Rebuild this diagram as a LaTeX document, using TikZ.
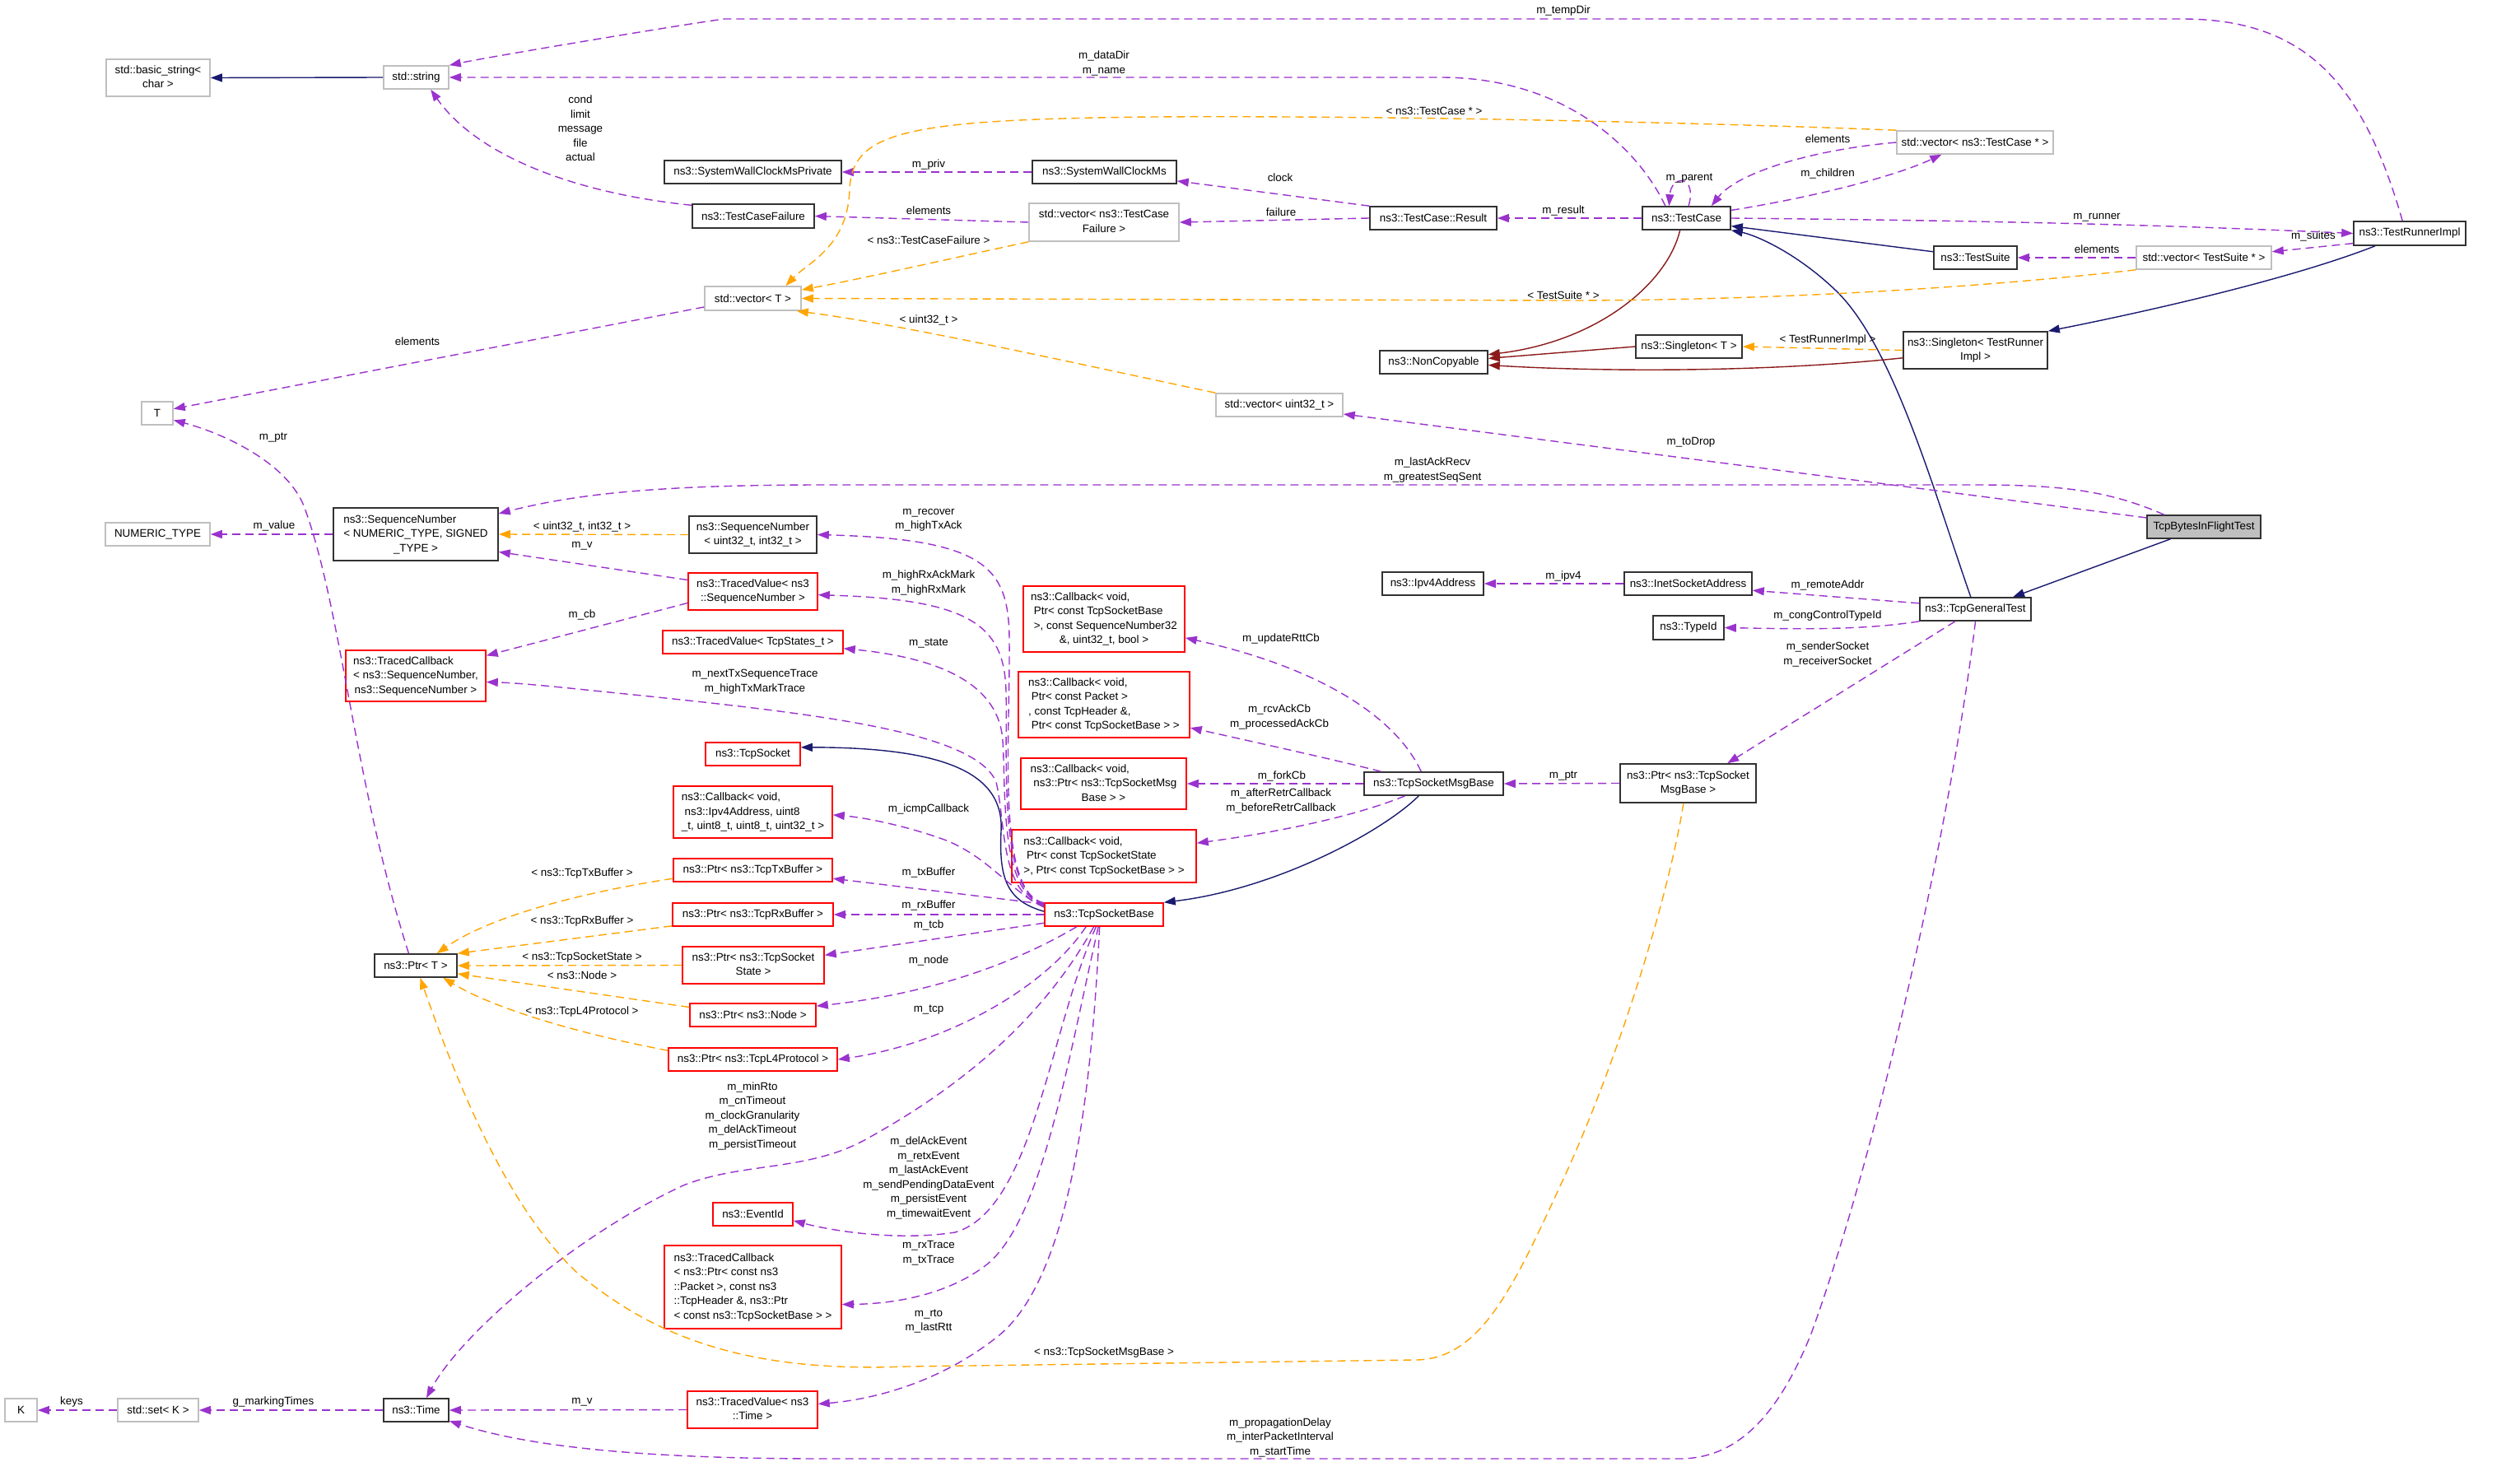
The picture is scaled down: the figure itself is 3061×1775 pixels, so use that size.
\documentclass[tikz,border=0pt]{standalone}
\usepackage{fontspec}
\setmainfont{Liberation Sans}
\usepackage{tikz}
\usetikzlibrary{arrows.meta,positioning}
\definecolor{usecol}{RGB}{154,50,205}
\definecolor{tmplcol}{RGB}{255,165,0}
\definecolor{inhcol}{RGB}{25,25,112}
\definecolor{protcol}{RGB}{139,26,26}
\definecolor{extgray}{RGB}{191,191,191}
\definecolor{maingray}{RGB}{191,191,191}
\definecolor{docred}{RGB}{255,0,0}
\definecolor{clsdark}{RGB}{50,50,50}
\newcommand{\dgfont}{\fontsize{13.4}{17.5}\selectfont}
\newcommand{\ltail}[2]{\begin{tabular}{@{}l@{}}#1\\\multicolumn{1}{@{}c@{}}{#2}\end{tabular}}
\tikzset{
  basebox/.style={rectangle,inner sep=0pt,align=center,font=\dgfont,line width=1.6pt,fill=white},
  clsnode/.style={basebox,draw=clsdark},
  extnode/.style={basebox,draw=extgray},
  rednode/.style={basebox,draw=docred},
  mainnode/.style={basebox,draw=clsdark,fill=maingray},
  bx/.style 2 args={minimum width=#1,minimum height=#2},
  lbl/.style={inner sep=0pt,align=center,font=\dgfont},
  usearr/.style={-{Triangle[length=14pt,width=10pt]},line width=1.4pt,dash pattern=on 10pt off 6pt,color=usecol},
  tmplarr/.style={usearr,color=tmplcol},
  inharr/.style={-{Triangle[length=14pt,width=10pt]},line width=1.4pt,color=inhcol},
  protarr/.style={inharr,color=protcol}
}

\begin{document}
\begin{tikzpicture}[x=1pt,y=-1pt]
  \fill[white] (0,0) rectangle (3061,1775);
  \useasboundingbox (0,0) rectangle (3061,1775);

  \node[extnode,bx={126}{45}] (bstr) at (192,94.5) {\ltail{std::basic\_string<}{char >}};
  \node[extnode,bx={79}{28}] (str) at (505.5,94) {std::string};
  \node[clsnode,bx={215}{28}] (swcmp) at (914.5,209) {ns3::SystemWallClockMsPrivate};
  \node[clsnode,bx={148}{29}] (tcf) at (915,262.5) {ns3::TestCaseFailure};
  \node[extnode,bx={117}{29}] (vect) at (914.5,362.5) {std::vector< T >};
  \node[extnode,bx={38}{28}] (tt) at (191,502) {T};
  \node[clsnode,bx={175}{28}] (swcm) at (1341.5,209) {ns3::SystemWallClockMs};
  \node[extnode,bx={182}{46}] (vectcf) at (1341,270) {\ltail{std::vector< ns3::TestCase}{Failure >}};
  \node[clsnode,bx={154}{28}] (res) at (1741,265) {ns3::TestCase::Result};
  \node[clsnode,bx={131}{28}] (noncopy) at (1741.5,440) {ns3::NonCopyable};
  \node[extnode,bx={154}{28}] (vecu) at (1554,492) {std::vector< uint32\_t >};
  \node[clsnode,bx={107}{28}] (tc) at (2048.5,265) {ns3::TestCase};
  \node[extnode,bx={190}{28}] (vectc) at (2399,173) {std::vector< ns3::TestCase * >};
  \node[clsnode,bx={136}{29}] (runner) at (2927,283.5) {ns3::TestRunnerImpl};
  \node[clsnode,bx={101}{28}] (suite) at (2399.5,313) {ns3::TestSuite};
  \node[extnode,bx={164}{28}] (vects) at (2677,313) {std::vector< TestSuite * >};
  \node[clsnode,bx={175}{45}] (singr) at (2399.5,425.5) {\ltail{ns3::Singleton< TestRunner}{Impl >}};
  \node[clsnode,bx={129}{28}] (singt) at (2051.5,421) {ns3::Singleton< T >};

  \node[extnode,bx={127}{28}] (numt) at (191.5,649) {NUMERIC\_TYPE};
  \node[clsnode,bx={200}{64}] (seqn) at (505,649) {\ltail{ns3::SequenceNumber\\< NUMERIC\_TYPE, SIGNED}{\_TYPE >}};
  \node[clsnode,bx={155}{45}] (sequ) at (914.5,649.5) {\ltail{ns3::SequenceNumber}{< uint32\_t, int32\_t >}};
  \node[rednode,bx={157}{45}] (tvseq) at (914.5,718.5) {\ltail{ns3::TracedValue< ns3}{::SequenceNumber >}};
  \node[rednode,bx={219}{28}] (tvstate) at (914.5,780) {ns3::TracedValue< TcpStates\_t >};
  \node[rednode,bx={170}{62}] (tcbseq) at (505,821) {\ltail{ns3::TracedCallback\\< ns3::SequenceNumber,}{ns3::SequenceNumber >}};
  \node[rednode,bx={115}{28}] (tcpsock) at (914.5,916) {ns3::TcpSocket};
  \node[rednode,bx={193}{63}] (cbicmp) at (914.5,986.5) {\ltail{ns3::Callback< void,\\\ ns3::Ipv4Address, uint8}{\_t, uint8\_t, uint8\_t, uint32\_t >}};
  \node[rednode,bx={196}{80}] (cbrtt) at (1341,752) {\ltail{ns3::Callback< void,\\\ Ptr< const TcpSocketBase\\\ >, const SequenceNumber32}{\&, uint32\_t, bool >}};
  \node[rednode,bx={208}{80}] (cback) at (1341,856) {\ltail{ns3::Callback< void,\\\ Ptr< const Packet >\\, const TcpHeader \&,}{\ Ptr< const TcpSocketBase > >}};
  \node[rednode,bx={201}{62}] (cbfork) at (1340.5,952) {\ltail{ns3::Callback< void,\\\ ns3::Ptr< ns3::TcpSocketMsg}{Base > >}};
  \node[rednode,bx={224}{64}] (cbretr) at (1341,1040) {\ltail{ns3::Callback< void,\\\ Ptr< const TcpSocketState}{>, Ptr< const TcpSocketBase > >}};
  \node[clsnode,bx={123}{28}] (ipv4) at (1740.5,709) {ns3::Ipv4Address};
  \node[clsnode,bx={155}{28}] (inet) at (2050.5,709) {ns3::InetSocketAddress};
  \node[clsnode,bx={169}{28}] (msgbase) at (1741.5,952) {ns3::TcpSocketMsgBase};
  \node[clsnode,bx={165}{47}] (ptrmsg) at (2050.5,951.5) {\ltail{ns3::Ptr< ns3::TcpSocket}{MsgBase >}};
  \node[mainnode,bx={138}{28}] (bift) at (2677,640) {TcpBytesInFlightTest};
  \node[clsnode,bx={135}{28}] (gen) at (2399.5,740) {ns3::TcpGeneralTest};
  \node[clsnode,bx={86}{29}] (typeid) at (2051,762.5) {ns3::TypeId};

  \node[rednode,bx={144}{28}] (sockbase) at (1341,1111) {ns3::TcpSocketBase};
  \node[rednode,bx={193}{28}] (ptrtx) at (914.5,1057) {ns3::Ptr< ns3::TcpTxBuffer >};
  \node[rednode,bx={195}{28}] (ptrrx) at (914.5,1111) {ns3::Ptr< ns3::TcpRxBuffer >};
  \node[rednode,bx={172}{45}] (ptrstate) at (915,1172.5) {\ltail{ns3::Ptr< ns3::TcpSocket}{State >}};
  \node[rednode,bx={153}{28}] (ptrnode) at (914.5,1233) {ns3::Ptr< ns3::Node >};
  \node[rednode,bx={205}{28}] (ptrl4) at (914.5,1287) {ns3::Ptr< ns3::TcpL4Protocol >};
  \node[clsnode,bx={100}{28}] (ptrt) at (505,1173) {ns3::Ptr< T >};
  \node[rednode,bx={97}{28}] (eventid) at (914.5,1475) {ns3::EventId};
  \node[rednode,bx={215}{101}] (tcbpkt) at (914.5,1563.5) {\ltail{ns3::TracedCallback\\< ns3::Ptr< const ns3\\::Packet >, const ns3\\::TcpHeader \&, ns3::Ptr}{< const ns3::TcpSocketBase > >}};
  \node[extnode,bx={39}{28}] (kk) at (25.5,1713) {K};
  \node[extnode,bx={98}{28}] (setk) at (192,1713) {std::set< K >};
  \node[clsnode,bx={79}{28}] (time) at (505.5,1713) {ns3::Time};
  \node[rednode,bx={158}{45}] (tvtime) at (914,1712.5) {\ltail{ns3::TracedValue< ns3}{::Time >}};

  \foreach \a/\b in {str.west/bstr.east,suite.172/tc.-10,bift.-160/gen.18} \draw[inharr] (\a) -- (\b);
  \draw[inharr] (runner.-160) .. controls (2780,340) and (2600,380) .. (singr.north east);
  \draw[inharr] (gen.111) .. controls (2350,600) and (2300,420) .. (2230,353) .. controls (2180,305) and (2130,285) .. (tc.south east);
  \draw[inharr] (sockbase.177) .. controls (1225,1095) and (1213,1070) .. (1216,1010) .. controls (1220,940) and (1150,908) .. (tcpsock.8);
  \draw[inharr] (msgbase.-141) .. controls (1680,1010) and (1550,1080) .. (sockbase.north east);
  \draw[protarr] (singt.west) -- (noncopy.4);
  \draw[protarr] (singr.-174) .. controls (2150,452) and (1950,452) .. (noncopy.-3);
  \draw[protarr] (tc.-118) .. controls (2025,345) and (1940,415) .. (noncopy.8);

  \foreach \a/\b in {swcm.west/swcmp.east,res.north west/swcm.-7,vectcf.west/tcf.east,res.west/vectcf.east,
    tc.west/res.east,runner.-170/vects.5,vects.west/suite.east,bift.171/vecu.-8,seqn.west/numt.east,
    vect.-170/tt.15,tvseq.170/seqn.-12,tvseq.-170/tcbseq.16,sockbase.170/ptrtx.-6,sockbase.west/ptrrx.east,
    sockbase.-172/ptrstate.8,tvtime.west/time.east,time.west/setk.east,setk.west/kk.east,
    msgbase.west/cbfork.east,ptrmsg.west/msgbase.east,gen.174/inet.-6,inet.west/ipv4.east,gen.-149/ptrmsg.27}
    \draw[usearr] (\a) -- (\b);
  \draw[usearr] (runner.120) .. controls (2870,100) and (2800,23) .. (2650,23) -- (880,23) .. controls (840,28) and (600,68) .. (str.north east);
  \draw[usearr] (tc.150) .. controls (1990,180) and (1900,94) .. (1750,94) -- (str.east);
  \draw[usearr] (tcf.170) .. controls (700,235) and (580,190) .. (str.-40);
  \draw[usearr] (vectc.west) .. controls (2200,182) and (2110,210) .. (tc.26);
  \draw[usearr] (tc.10) .. controls (2200,240) and (2300,215) .. (vectc.-160);
  \draw[usearr] (tc.80) .. controls (2062,212) and (2030,212) .. (tc.145);
  \draw[usearr] (tc.east) .. controls (2400,268) and (2600,272) .. (runner.west);
  \draw[usearr] (bift.163) .. controls (2560,595) and (2500,589) .. (2400,589) -- (1000,589) .. controls (800,589) and (700,600) .. (seqn.14);
  \draw[usearr] (sockbase.169) .. controls (1210,1085) and (1227,900) .. (1226,780) .. controls (1226,690) and (1200,655) .. (sequ.east);
  \draw[usearr] (sockbase.170) .. controls (1212,1085) and (1224,920) .. (1222,840) .. controls (1220,760) and (1180,728) .. (tvseq.-3);
  \draw[usearr] (sockbase.171) .. controls (1214,1085) and (1222,960) .. (1218,900) .. controls (1214,835) and (1150,800) .. (tvstate.-4);
  \draw[usearr] (sockbase.172) .. controls (1214,1085) and (1222,1000) .. (1210,950) .. controls (1185,890) and (1000,868) .. (780,845) .. controls (700,837) and (640,830) .. (tcbseq.-5);
  \draw[usearr] (sockbase.173) .. controls (1230,1085) and (1200,1040) .. (1147,1020) .. controls (1100,1003) and (1050,993) .. (cbicmp.-2);
  \draw[usearr] (sockbase.-156) .. controls (1250,1160) and (1150,1205) .. (ptrnode.8);
  \draw[usearr] (sockbase.-146) .. controls (1270,1200) and (1150,1268) .. (ptrl4.east);
  \draw[usearr] (sockbase.-130) .. controls (1260,1250) and (1150,1330) .. (1050,1385) .. controls (980,1423) and (900,1412) .. (830,1440) .. controls (700,1500) and (560,1620) .. (time.50);
  \draw[usearr] (sockbase.-123) .. controls (1275,1250) and (1255,1470) .. (1160,1497) .. controls (1090,1508) and (1010,1495) .. (eventid.-9);
  \draw[usearr] (sockbase.-115) .. controls (1295,1300) and (1265,1480) .. (1200,1535) .. controls (1150,1575) and (1080,1584) .. (tcbpkt.-11);
  \draw[usearr] (sockbase.-110) .. controls (1325,1350) and (1295,1560) .. (1210,1625) .. controls (1140,1680) and (1060,1700) .. (tvtime.5);
  \draw[usearr] (gen.south) .. controls (2370,1000) and (2280,1400) .. (2200,1620) .. controls (2160,1720) and (2110,1772) .. (2040,1772) -- (1000,1772) .. controls (800,1772) and (650,1760) .. (time.-18);
  \draw[usearr] (ptrt.120) .. controls (430,950) and (415,740) .. (370,617) .. controls (350,562) and (270,526) .. (tt.-23);
  \draw[usearr] (msgbase.136) .. controls (1700,880) and (1620,815) .. (cbrtt.-13);
  \draw[usearr] (msgbase.167) .. controls (1630,925) and (1540,905) .. (cback.-15);
  \draw[usearr] (msgbase.-157) .. controls (1650,990) and (1560,1010) .. (cbretr.8);
  \draw[usearr] (gen.south west) .. controls (2260,766) and (2180,764) .. (typeid.east);

  \foreach \a/\b in {singr.west/singt.east,sequ.west/seqn.east,ptrrx.-172/ptrt.north east,
    ptrstate.west/ptrt.east,ptrnode.173/ptrt.-11}
    \draw[tmplarr] (\a) -- (\b);
  \draw[tmplarr] (vects.south west) .. controls (2400,350) and (2150,365) .. (1900,365) -- (vect.east);
  \draw[tmplarr] (vectc.north west) .. controls (2100,150) and (1700,140) .. (1400,142) .. controls (1100,145) and (1035,160) .. (1032,230) .. controls (1030,300) and (980,320) .. (vect.21);
  \draw[tmplarr] (vectcf.south west) .. controls (1150,315) and (1050,338) .. (vect.10);
  \draw[tmplarr] (vecu.north west) .. controls (1300,440) and (1100,395) .. (vect.-16);
  \draw[tmplarr] (ptrmsg.-103) .. controls (2025,1100) and (1960,1300) .. (1900,1430) .. controls (1840,1560) and (1800,1651) .. (1720,1652) -- (1100,1660) .. controls (900,1668) and (790,1620) .. (701,1546) .. controls (620,1470) and (560,1330) .. (ptrt.-70);
  \draw[tmplarr] (ptrtx.-174) .. controls (720,1082) and (600,1110) .. (ptrt.30);
  \draw[tmplarr] (ptrl4.174) .. controls (700,1255) and (600,1225) .. (ptrt.-24);

  \node[lbl] (ltempdir) at (1899,13) {m\_tempDir};
  \node[lbl] (ldatadir) at (1341,77) {m\_dataDir\\m\_name};
  \node[lbl] (lcond) at (705,156) {cond\\limit\\message\\file\\actual};
  \node[lbl] (ltcptr) at (1742,135) {< ns3::TestCase * >};
  \node[lbl] (lpriv) at (1128,200) {m\_priv};
  \node[lbl] (lclock) at (1555,216) {clock};
  \node[lbl] (lelemtcf) at (1128,256) {elements};
  \node[lbl] (lfailure) at (1556,258) {failure};
  \node[lbl] (lresult) at (1899,256) {m\_result};
  \node[lbl] (lparent) at (2052,217) {m\_parent};
  \node[lbl] (lelemtc) at (2220,169) {elements};
  \node[lbl] (lchildren) at (2220,211) {m\_children};
  \node[lbl] (lrunner) at (2547,264) {m\_runner};
  \node[lbl] (lsuites) at (2810,287) {m\_suites};
  \node[lbl] (lelemts) at (2547,303) {elements};
  \node[lbl] (ltcf) at (1128,292) {< ns3::TestCaseFailure >};
  \node[lbl] (ltsptr) at (1899,359) {< TestSuite * >};
  \node[lbl] (lu32) at (1128,389) {< uint32\_t >};
  \node[lbl] (lelemt) at (507,415) {elements};
  \node[lbl] (ltri) at (2220,413) {< TestRunnerImpl >};
  \node[lbl] (ltodrop) at (2054,537) {m\_toDrop};
  \node[lbl] (lptrt) at (332,532) {m\_ptr};
  \node[lbl] (lack) at (1740,571) {m\_lastAckRecv\\m\_greatestSeqSent};
  \node[lbl] (lvalue) at (333,639) {m\_value};
  \node[lbl] (lui) at (707,640) {< uint32\_t, int32\_t >};
  \node[lbl] (lvseq) at (707,663) {m\_v};
  \node[lbl] (lcb) at (707,747) {m\_cb};
  \node[lbl] (lrecover) at (1128,632) {m\_recover\\m\_highTxAck};
  \node[lbl] (lhighrx) at (1128,708) {m\_highRxAckMark\\m\_highRxMark};
  \node[lbl] (lstate) at (1128,781) {m\_state};
  \node[lbl] (lnexttx) at (917,828) {m\_nextTxSequenceTrace\\m\_highTxMarkTrace};
  \node[lbl] (licmp) at (1128,983) {m\_icmpCallback};
  \node[lbl] (lrtt) at (1556,776) {m\_updateRttCb};
  \node[lbl] (lrcvack) at (1554,871) {m\_rcvAckCb\\m\_processedAckCb};
  \node[lbl] (lfork) at (1557,943) {m\_forkCb};
  \node[lbl] (lretr) at (1556,973) {m\_afterRetrCallback\\m\_beforeRetrCallback};
  \node[lbl] (lipv4) at (1899,700) {m\_ipv4};
  \node[lbl] (lptrmsg) at (1899,943) {m\_ptr};
  \node[lbl] (lremote) at (2220,711) {m\_remoteAddr};
  \node[lbl] (lcong) at (2220,748) {m\_congControlTypeId};
  \node[lbl] (lsender) at (2220,795) {m\_senderSocket\\m\_receiverSocket};
  \node[lbl] (ltx) at (1128,1060) {m\_txBuffer};
  \node[lbl] (lrx) at (1128,1100) {m\_rxBuffer};
  \node[lbl] (ltcb) at (1128,1124) {m\_tcb};
  \node[lbl] (lnode) at (1128,1167) {m\_node};
  \node[lbl] (ltcp) at (1128,1227) {m\_tcp};
  \node[lbl] (lminrto) at (914,1356) {m\_minRto\\m\_cnTimeout\\m\_clockGranularity\\m\_delAckTimeout\\m\_persistTimeout};
  \node[lbl] (levents) at (1128,1431) {m\_delAckEvent\\m\_retxEvent\\m\_lastAckEvent\\m\_sendPendingDataEvent\\m\_persistEvent\\m\_timewaitEvent};
  \node[lbl] (ltrace) at (1128,1522) {m\_rxTrace\\m\_txTrace};
  \node[lbl] (lrto) at (1128,1605) {m\_rto\\m\_lastRtt};
  \node[lbl] (lmsgbase) at (1341,1643) {< ns3::TcpSocketMsgBase >};
  \node[lbl] (lprop) at (1555,1746) {m\_propagationDelay\\m\_interPacketInterval\\m\_startTime};
  \node[lbl] (ltxbuf) at (707,1061) {< ns3::TcpTxBuffer >};
  \node[lbl] (lrxbuf) at (707,1119) {< ns3::TcpRxBuffer >};
  \node[lbl] (lsockstate) at (707,1163) {< ns3::TcpSocketState >};
  \node[lbl] (lnodet) at (707,1185) {< ns3::Node >};
  \node[lbl] (ll4) at (707,1229) {< ns3::TcpL4Protocol >};
  \node[lbl] (lkeys) at (87,1703) {keys};
  \node[lbl] (lmarking) at (332,1703) {g\_markingTimes};
  \node[lbl] (lvtime) at (707,1703) {m\_v};
\end{tikzpicture}
\end{document}
